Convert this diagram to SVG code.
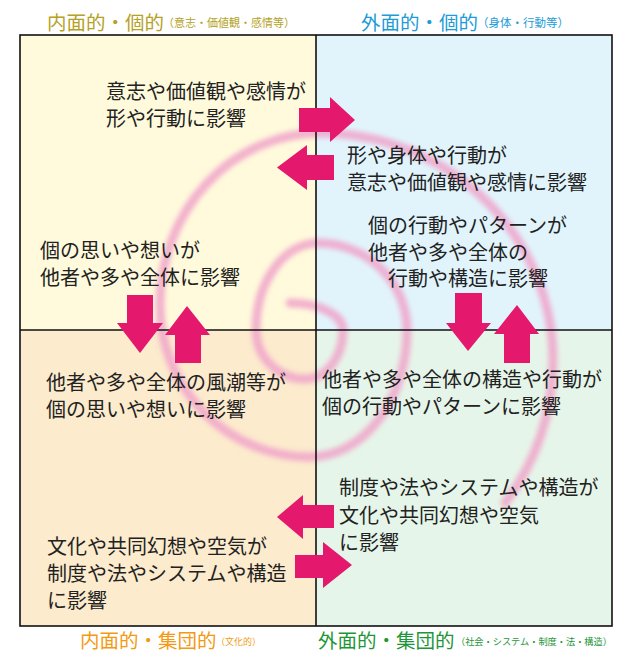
<svg xmlns="http://www.w3.org/2000/svg" width="626" height="663" viewBox="0 0 626 663">
<style>
text{font-family:"Noto Sans CJK JP","Noto Sans CJK SC",sans-serif;}
.body{font-size:20px;fill:#222;}
.ttl{font-size:19.5px;}
.arr{fill:#E4196E;}
.ln{stroke:#111;stroke-width:1.6;fill:none;}
</style>
<defs>
<filter id="soft" x="-10%" y="-10%" width="120%" height="120%"><feGaussianBlur stdDeviation="2.6"/></filter>
</defs>
<rect width="626" height="663" fill="#fff"/>
<g id="backgrounds">
<rect x="20" y="35" width="296" height="295" fill="#FFFADC"/>
<rect x="316" y="35" width="296" height="295" fill="#E1F4FC"/>
<rect x="20" y="330" width="296" height="296" fill="#FCEBCD"/>
<rect x="316" y="330" width="296" height="296" fill="#E6F5E9"/>
</g>
<g id="spiral">
<path d="M290,303 A53,27 0 0 1 343,330 A38,49 0 0 1 305,379 A49,49 0 0 1 256,330 A62,87 0 0 1 318,243 A89,87 0 0 1 407,330 A97,127 0 0 1 310,457 A150,152 0 0 1 160,305 A160,172 0 0 1 320,133 A233,227 0 0 1 553,360 A223,230 0 0 1 505,503" fill="none" stroke="#F0A4CA" stroke-width="9" stroke-linecap="round" opacity="0.85" filter="url(#soft)"/>
</g>
<g id="frame">
<rect class="ln" x="20" y="35" width="592" height="591"/>
<line class="ln" x1="316" y1="35" x2="316" y2="626"/>
<line class="ln" x1="20" y1="330" x2="612" y2="330"/>
</g>
<g id="title-tl">
<text class="ttl" x="47" y="30" fill="#B5A126">内面的・個的</text>
<text x="163" y="27" font-size="11" fill="#B5A126">（意志・価値観・感情等）</text>
</g>
<g id="title-tr">
<text class="ttl" x="361" y="30" fill="#1C9CD8">外面的・個的</text>
<text x="477" y="27" font-size="11.5" fill="#1C9CD8">（身体・行動等）</text>
</g>
<g id="title-bl">
<text class="ttl" x="80" y="648" fill="#F39A12">内面的・集団的</text>
<text x="216" y="645" font-size="9" fill="#F39A12">（文化的）</text>
</g>
<g id="title-br">
<text class="ttl" x="318" y="648" fill="#1E9638">外面的・集団的</text>
<text x="456" y="645" font-size="9.2" fill="#1E9638">（社会・システム・制度・法・構造）</text>
</g>
<g id="node-tl1">
<text class="body" x="106" y="98.5">意志や価値観や感情が</text>
<text class="body" x="106" y="125.5">形や行動に影響</text>
</g>
<g id="node-tr1">
<text class="body" x="347" y="163">形や身体や行動が</text>
<text class="body" x="347" y="189.5">意志や価値観や感情に影響</text>
</g>
<g id="node-tr2">
<text class="body" x="368" y="233">個の行動やパターンが</text>
<text class="body" x="368" y="259.5">他者や多や全体の</text>
<text class="body" x="388" y="286">行動や構造に影響</text>
</g>
<g id="node-tl2">
<text class="body" x="40" y="258">個の思いや想いが</text>
<text class="body" x="40" y="284.5">他者や多や全体に影響</text>
</g>
<g id="node-bl1">
<text class="body" x="46" y="390">他者や多や全体の風潮等が</text>
<text class="body" x="46" y="417">個の思いや想いに影響</text>
</g>
<g id="node-br1">
<text class="body" x="322" y="387">他者や多や全体の構造や行動が</text>
<text class="body" x="322" y="414">個の行動やパターンに影響</text>
</g>
<g id="node-br2">
<text class="body" x="339" y="495">制度や法やシステムや構造が</text>
<text class="body" x="339" y="523">文化や共同幻想や空気</text>
<text class="body" x="339" y="550">に影響</text>
</g>
<g id="node-bl2">
<text class="body" x="47" y="554">文化や共同幻想や空気が</text>
<text class="body" x="47" y="581">制度や法やシステムや構造</text>
<text class="body" x="47" y="608">に影響</text>
</g>
<g id="connectors">
<polygon class="arr" points="299,108 330,108 330,97 355,120 330,142 330,132 299,132"/>
<polygon class="arr" points="334,155 307,155 307,145 277,167.5 307,190 307,180 334,180"/>
<polygon class="arr" points="127,295 153,295 153,323 163,323 140,353 117,323 127,323"/>
<polygon class="arr" points="175,363 175,335 165,335 187,306 210,335 201,335 201,363"/>
<polygon class="arr" points="455,293 482,293 482,323 491,323 468,351 446,323 455,323"/>
<polygon class="arr" points="504,363 504,334 494,334 517,305 539,334 530,334 530,363"/>
<polygon class="arr" points="334,505 303,505 303,495 277,517 303,539 303,528 334,528"/>
<polygon class="arr" points="295,555 323,555 323,542 352,565 323,588 323,578 295,578"/>
</g>
</svg>
